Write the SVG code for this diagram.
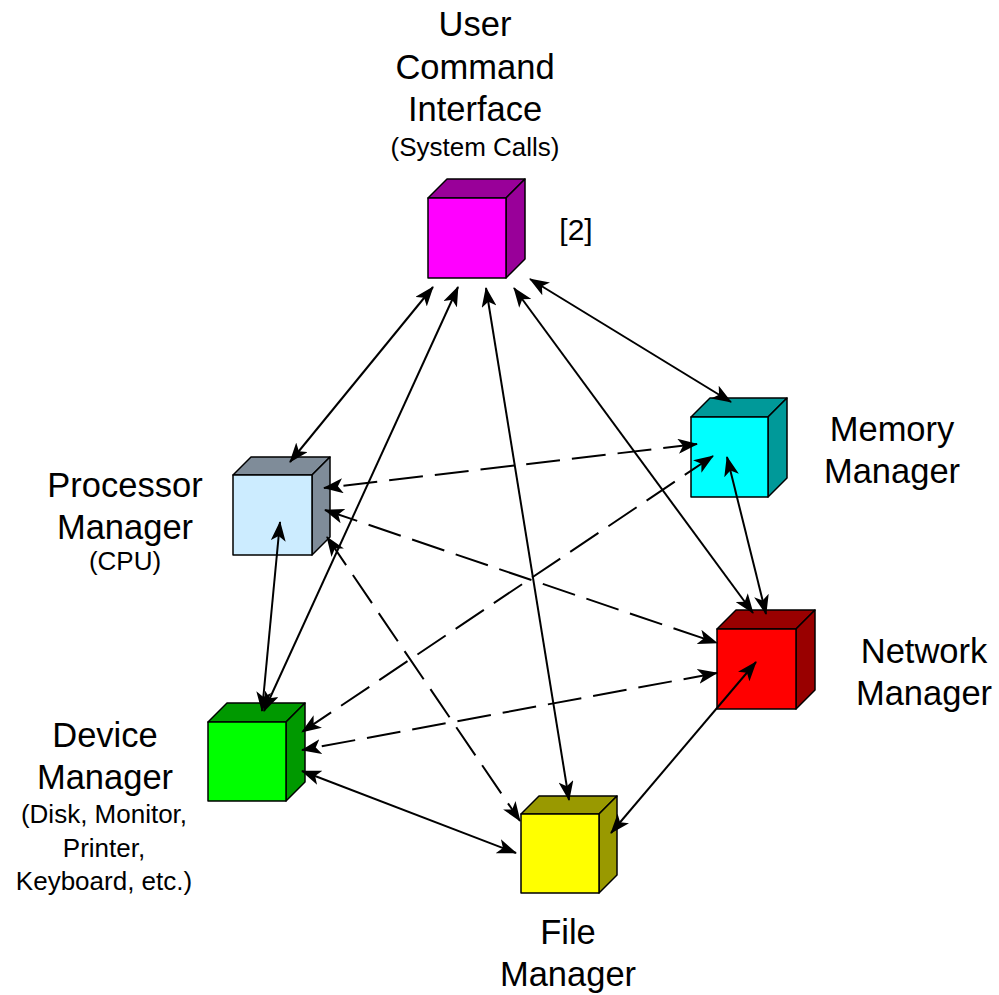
<svg xmlns="http://www.w3.org/2000/svg" width="999" height="995" viewBox="0 0 999 995">
<style>
.big{font-family:"Liberation Sans",Arial,sans-serif;font-size:34.5px;fill:#000;text-anchor:middle}
.sm{font-family:"Liberation Sans",Arial,sans-serif;font-size:26px;fill:#000;text-anchor:middle}
.edge{fill:none;stroke:#000;stroke-width:2;marker-start:url(#ah);marker-end:url(#ah)}
.dash{stroke-dasharray:34 12}
.cube{stroke:#000;stroke-width:1.5;stroke-linejoin:round}
</style>
<defs>
<marker id="ah" viewBox="0 0 20 15" refX="19" refY="7.5" markerWidth="20" markerHeight="15" markerUnits="userSpaceOnUse" orient="auto-start-reverse">
<path d="M0,0 L20,7.5 L0,15 L5,7.5 Z" fill="#000"/>
</marker>
</defs>
<rect width="999" height="995" fill="#fff"/>

<g id="user">
<path class="cube" fill="#990099" d="M428,198 L447,179 L525,179 L506,198 Z"/>
<path class="cube" fill="#990099" d="M506,198 L525,179 L525,259 L506,278 Z"/>
<rect class="cube" fill="#FF00FF" x="428" y="198" width="78" height="80"/>
<text class="big" x="475" y="36">User</text>
<text class="big" x="475" y="79">Command</text>
<text class="big" x="475" y="121">Interface</text>
<text class="sm" x="475" y="156">(System Calls)</text>
<text class="sm" x="576" y="240" style="font-size:30px">[2]</text>
</g>

<g id="processor">
<path class="cube" fill="#7F8C99" d="M233,475 L251,457 L330,457 L312,475 Z"/>
<path class="cube" fill="#7F8C99" d="M312,475 L330,457 L330,537 L312,555 Z"/>
<rect class="cube" fill="#CCECFF" x="233" y="475" width="79" height="80"/>
<text class="big" x="125" y="497">Processor</text>
<text class="big" x="125" y="539">Manager</text>
<text class="sm" x="125" y="570">(CPU)</text>
</g>

<g id="memory">
<path class="cube" fill="#009999" d="M691,417 L710,398 L787,398 L768,417 Z"/>
<path class="cube" fill="#009999" d="M768,417 L787,398 L787,478 L768,497 Z"/>
<rect class="cube" fill="#00FFFF" x="691" y="417" width="77" height="80"/>
<text class="big" x="892" y="441">Memory</text>
<text class="big" x="892" y="483">Manager</text>
</g>

<g id="network">
<path class="cube" fill="#990000" d="M717,629 L736,610 L815,610 L796,629 Z"/>
<path class="cube" fill="#990000" d="M796,629 L815,610 L815,690 L796,709 Z"/>
<rect class="cube" fill="#FF0000" x="717" y="629" width="79" height="80"/>
<text class="big" x="924" y="663">Network</text>
<text class="big" x="924" y="705">Manager</text>
</g>

<g id="device">
<path class="cube" fill="#009900" d="M208,722 L227,703 L305,703 L286,722 Z"/>
<path class="cube" fill="#009900" d="M286,722 L305,703 L305,782 L286,801 Z"/>
<rect class="cube" fill="#00FF00" x="208" y="722" width="78" height="79"/>
<text class="big" x="105" y="747">Device</text>
<text class="big" x="105" y="789">Manager</text>
<text class="sm" x="104" y="823">(Disk, Monitor,</text>
<text class="sm" x="104" y="857">Printer,</text>
<text class="sm" x="104" y="890">Keyboard, etc.)</text>
</g>

<g id="file">
<path class="cube" fill="#999900" d="M521,814 L539,796 L617,796 L599,814 Z"/>
<path class="cube" fill="#999900" d="M599,814 L617,796 L617,875 L599,893 Z"/>
<rect class="cube" fill="#FFFF00" x="521" y="814" width="78" height="79"/>
<text class="big" x="568" y="944">File</text>
<text class="big" x="568" y="986">Manager</text>
</g>

<g id="connectors">
<line class="edge" x1="433" y1="287" x2="290" y2="462"/>
<line class="edge" x1="458" y1="287" x2="264" y2="711"/>
<line class="edge" x1="486" y1="288" x2="569" y2="800"/>
<line class="edge" x1="514" y1="288" x2="753" y2="613"/>
<line class="edge" x1="530" y1="279" x2="731" y2="402"/>
<line class="edge" x1="280" y1="522" x2="262" y2="711"/>
<line class="edge" x1="727" y1="457" x2="766" y2="614"/>
<line class="edge" x1="302" y1="771" x2="516" y2="853"/>
<line class="edge" x1="756" y1="662" x2="611" y2="833"/>
<line class="edge dash" x1="697" y1="444" x2="324" y2="488"/>
<line class="edge dash" x1="325" y1="510" x2="717" y2="643"/>
<line class="edge dash" x1="327" y1="537" x2="520" y2="821"/>
<line class="edge dash" x1="713" y1="456" x2="302" y2="732"/>
<line class="edge dash" x1="717" y1="673" x2="302" y2="750"/>
</g>
</svg>
